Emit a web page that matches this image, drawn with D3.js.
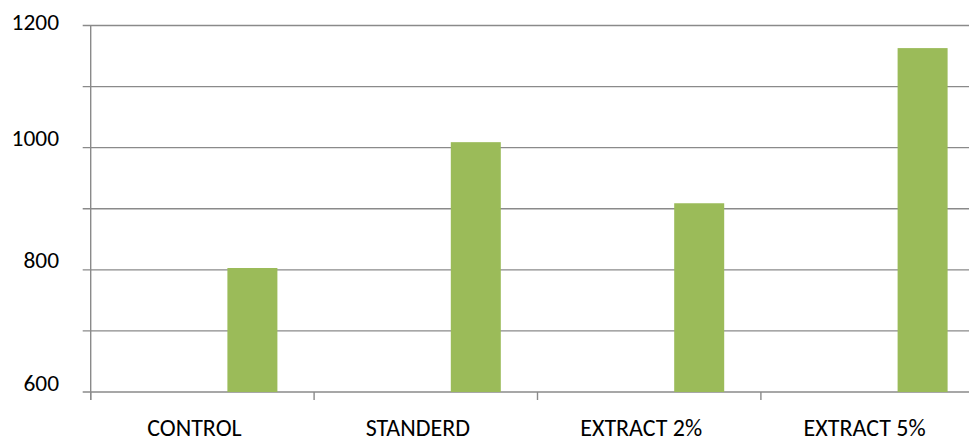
<!DOCTYPE html>
<html>
<head>
<meta charset="utf-8">
<script src="https://cdn.jsdelivr.net/npm/d3@7"></script>
<style>
  html, body { margin: 0; padding: 0; background: #fff; }
  svg { display: block; }
  text { font-family: Carlito, Calibri, Lato, "Open Sans", sans-serif; fill: #000; }
</style>
</head>
<body>
<svg id="chart" width="969" height="437"></svg>
<script>
// Categories along the x axis
const categories = ["CONTROL", "STANDERD", "EXTRACT 2%", "EXTRACT 5%"];
// Three series per category; only the third carries values
const seriesNames = ["Series1", "Series2", "Series3"];
const series1 = [null, null, null, null];
const series2 = [null, null, null, null];
const series3 = [803, 1009, 909, 1163];
// Value axis
const yTicks = [600, 700, 800, 900, 1000, 1100, 1200];
const yLabels = [600, 800, 1000, 1200];

const allSeries = [series1, series2, series3];

const svg = d3.select("#chart");

const plotLeft = 90.7, plotBottom = 392, plotTop = 25.5;
const bandW = 223.4;

const x = d3.scaleBand()
  .domain(categories)
  .range([plotLeft, plotLeft + bandW * categories.length])
  .paddingInner(0).paddingOuter(0);

const xs = d3.scaleBand()
  .domain(seriesNames)
  .range([0, x.bandwidth()])
  .paddingInner(0).paddingOuter(0.734);

const y = d3.scaleLinear().domain([600, 1200]).range([plotBottom, plotTop]);

const gridColor = "#8a8a8a";

// Horizontal gridlines (with small tick stubs left of the axis)
svg.append("g").selectAll("line")
  .data(yTicks)
  .join("line")
  .attr("x1", plotLeft - 8)
  .attr("x2", x.range()[1])
  .attr("y1", d => y(d))
  .attr("y2", d => y(d))
  .attr("stroke", gridColor)
  .attr("stroke-width", 1.4);

// Bars
const bars = [];
allSeries.forEach((vals, si) => {
  vals.forEach((v, ci) => {
    if (v != null) bars.push({ cat: categories[ci], s: seriesNames[si], v });
  });
});
svg.append("g").selectAll("rect")
  .data(bars)
  .join("rect")
  .attr("x", d => x(d.cat) + xs(d.s))
  .attr("width", xs.bandwidth())
  .attr("y", d => y(d.v))
  .attr("height", d => y(600) - y(d.v))
  .attr("fill", "#9BBB59");

// Vertical axis line
svg.append("line")
  .attr("x1", plotLeft).attr("x2", plotLeft)
  .attr("y1", y(1200)).attr("y2", plotBottom + 8)
  .attr("stroke", gridColor).attr("stroke-width", 1.4);

// Category boundary ticks below the axis
const bounds = categories.map(c => x(c)).concat([x.range()[1]]);
svg.append("g").selectAll("line")
  .data(bounds)
  .join("line")
  .attr("x1", d => d).attr("x2", d => d)
  .attr("y1", plotBottom).attr("y2", plotBottom + 8)
  .attr("stroke", gridColor).attr("stroke-width", 1.4);

// Y axis labels
svg.append("g").selectAll("text")
  .data(yLabels)
  .join("text")
  .attr("x", 59)
  .attr("y", d => Math.max(y(d) - 1.5, 30))
  .attr("text-anchor", "end")
  .attr("font-size", 23.4)
  .text(d => d);

// Category labels
svg.append("g").selectAll("text")
  .data(categories)
  .join("text")
  .attr("x", d => x(d) + x.bandwidth() / 2 - 8)
  .attr("y", 436)
  .attr("text-anchor", "middle")
  .attr("font-size", 24)
  .text(d => d);
</script>
</body>
</html>
